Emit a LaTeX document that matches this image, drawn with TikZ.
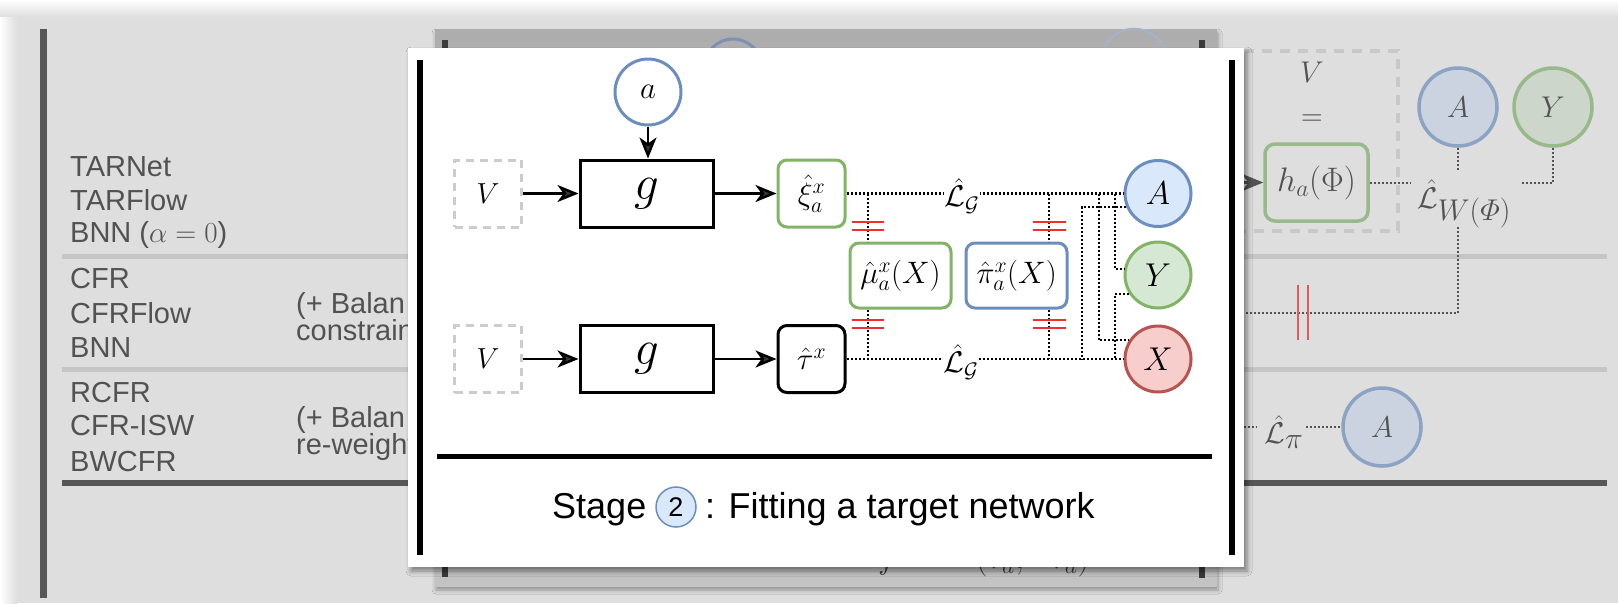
\RequirePackage{fix-cm}
\documentclass[tikz,border=0pt]{standalone}
\usepackage{amsmath}
\usepackage{fontspec}
\newfontfamily\arial{Liberation Sans}
\usetikzlibrary{arrows.meta,shadows.blur,calc}

% colours of the dimmed page
\definecolor{pagebg}{HTML}{DEDEDE}
\definecolor{dimtext}{HTML}{525252}
\definecolor{dimrule}{HTML}{C5C5C5}
\definecolor{dimbar}{HTML}{575757}
\definecolor{dimblue}{HTML}{8CA3C4}
\definecolor{dimbluefill}{HTML}{CBD3E0}
\definecolor{dimgreen}{HTML}{98B98A}
\definecolor{dimgreenfill}{HTML}{CDD6CB}
\definecolor{dimred}{HTML}{E05A5A}
\definecolor{dimdash}{HTML}{C8C8C8}
\definecolor{ghosttop}{HTML}{ADADAD}
\definecolor{ghostbot}{HTML}{C3C3C3}
\definecolor{ghostbar}{HTML}{3A3A3A}
\definecolor{ghostblue}{HTML}{7D91B2}
\definecolor{ghostpale}{HTML}{A8B2C4}
% colours of the stage panel
\definecolor{bluedraw}{HTML}{6C8EBF}
\definecolor{bluefill}{HTML}{DAE8FC}
\definecolor{greendraw}{HTML}{82B366}
\definecolor{greenfill}{HTML}{D5E8D4}
\definecolor{reddraw}{HTML}{B85450}
\definecolor{redfill}{HTML}{F8CECC}
\definecolor{barred}{HTML}{EE3030}
\definecolor{vgrey}{HTML}{CCCCCC}

\begin{document}
\begin{tikzpicture}[x=1pt,y=-1pt,
  collbl/.style={anchor=base west, inner sep=0pt, text=dimtext, font=\arial\fontsize{29}{34}\selectfont},
  dimmath/.style={inner sep=1pt, text=dimtext, font=\fontsize{30}{36}\selectfont},
  dimcirc/.style={circle, line width=3.5pt, minimum size=78pt, inner sep=0pt, text=dimtext, font=\fontsize{30}{36}\selectfont},
  dimdot/.style={dimtext, line width=2pt, dash pattern=on 2pt off 2pt},
  pcirc/.style={circle, line width=3pt, minimum size=66pt, inner sep=0pt, font=\fontsize{33}{40}\selectfont},
  pbox/.style={line width=3pt, inner sep=0pt, rounded corners=9pt, font=\fontsize{31}{37}\selectfont},
  vbox/.style={draw=vgrey, line width=3pt, dash pattern=on 8pt off 6pt, minimum width=67pt, minimum height=67pt, inner sep=0pt, font=\fontsize{29}{35}\selectfont},
  gbox/.style={draw=black, line width=3pt, minimum width=133pt, minimum height=67pt, inner sep=0pt, font=\fontsize{49}{58}\selectfont},
  parr/.style={line width=2.5pt, -{Stealth[length=21pt,width=17pt,inset=6pt]}},
  pdot/.style={line width=2.2pt, dash pattern=on 2pt off 2pt},
  cutmark/.style={barred, line width=2pt},
  loss/.style={fill=white, inner sep=1pt, font=\fontsize{30}{36}\selectfont}
]
\useasboundingbox (0,0) rectangle (1618,603);

% ---------- dimmed page ----------
\fill[white] (0,0) rectangle (1618,603);
\fill[pagebg] (15,15) rectangle (1618,603);
\shade[top color=white, bottom color=pagebg] (0,0) rectangle (1618,17);
\shade[left color=white, right color=pagebg] (0,17) rectangle (17,603);

% table frame and rules
\draw[dimbar, line width=7pt] (43.5,29) -- (43.5,598);
\draw[dimrule, line width=5pt] (62,256) -- (1607,256);
\draw[dimrule, line width=5pt] (62,369) -- (1607,369);
\draw[dimbar, line width=6pt] (62,482.5) -- (1607,482.5);

% method names
\node[collbl] (m1) at (70,176) {TARNet};
\node[collbl] (m2) at (70,210) {TARFlow};
\node[collbl] (m3) at (70,242) {BNN ($\alpha = 0$)};
\node[collbl] (m4) at (70,288) {CFR};
\node[collbl] (m5) at (70,323) {CFRFlow};
\node[collbl] (m6) at (70,357) {BNN};
\node[collbl] (m7) at (70,402) {RCFR};
\node[collbl] (m8) at (70,435) {CFR-ISW};
\node[collbl] (m9) at (70,471) {BWCFR};
\node[collbl] (n1) at (296,313) {(+ Balan};
\node[collbl] (n2) at (296,340) {constrain};
\node[collbl] (n3) at (296,427) {(+ Balan};
\node[collbl] (n4) at (296,454) {re-weight};

% right part of the first row
\draw[dimdash, line width=3.5pt, dash pattern=on 10pt off 8pt] (1200,51) rectangle (1398,231);
\node[dimmath] (bgV) at (1312,72) {$V$};
\node[dimmath] (bgeq) at (1312,120) {$=$};
\node[draw=dimgreen, line width=3.5pt, rounded corners=10pt, minimum width=103pt, minimum height=77pt,
      inner sep=0pt, text=dimtext, font=\fontsize{34}{40}\selectfont] (bgh) at (1316.5,182.5) {$h_a(\Phi)$};
\coordinate (bgin) at (1150,182.5);
\draw[dimtext, line width=2.5pt, -{Stealth[length=21pt,width=17pt,inset=6pt]}] (bgin) -- (bgh.west);
\node[dimcirc, draw=dimblue, fill=dimbluefill] (bgA) at (1458,107) {$A$};
\node[dimcirc, draw=dimgreen, fill=dimgreenfill] (bgY) at (1553,107) {$Y$};
\node[dimmath, anchor=west] (bgLW) at (1416,204) {$\hat{\mathcal{L}}_{\textstyle W(\varPhi)}$};
\coordinate (bgLWr) at (1520,182.5);
\draw[dimdot] (bgh.east) -- (1410,182.5);
\draw[dimdot] (bgA.south) -- ++(0,22);
\draw[dimdot] (bgY.south) |- (bgLWr);
\coordinate (bgturn) at (1458,313);
\coordinate (bgleft) at (1200,313);
\draw[dimdot] (1458,227) -- (bgturn) -- (bgleft);
\draw[dimred, line width=2.5pt] (1298,285) -- (1298,340);
\draw[dimred, line width=2.5pt] (1308,285) -- (1308,340);

% right part of the third row
\node[dimmath] (bgLpi) at (1284,432) {$\hat{\mathcal{L}}_{\textstyle\pi}$};
\node[dimcirc, draw=dimblue, fill=dimbluefill] (bgA2) at (1382,427) {$A$};
\coordinate (bgpil) at (1200,427);
\draw[dimdot] (bgpil) -- (1257,427);
\draw[dimdot] (1306,427) -- (bgA2.west);

% ---------- earlier panel, behind ----------
\shade[top color=ghosttop, bottom color=ghostbot,
       blur shadow={shadow blur radius=4pt, shadow xshift=1pt, shadow yshift=-4pt, shadow opacity=35}]
      (435,29) rectangle (1217,586);
\draw[ghostbar, line width=6pt] (445,40) -- (445,577);
\draw[ghostbar, line width=6pt] (1201.5,40) -- (1201.5,578);
\draw[ghostblue, line width=3pt] (733,68) circle[radius=29];
\draw[ghostpale, line width=2.5pt] (1134,63) circle[radius=34];
\node[anchor=base west, inner sep=0pt, text=ghostbar, font=\fontsize{34}{40}\selectfont] (frag) at (878,568)
      {$f\qquad\;(\hat{\tau}_a,\ \ \tau_a)$};

% ---------- stage panel ----------
\fill[white, blur shadow={shadow blur radius=5pt, shadow xshift=3pt, shadow yshift=-4pt, shadow opacity=45}]
      (408,48) rectangle (1244,567);
\draw[line width=6pt] (420,60) -- (420,555);
\draw[line width=6pt] (1232,60) -- (1232,555);
\draw[line width=5pt] (437,456) -- (1212,456);

% caption
\node[anchor=base west, inner sep=0pt, font=\arial\fontsize{36}{42}\selectfont] (stg) at (552,518) {Stage};
\node[circle, draw=bluedraw, fill=bluefill, line width=1.5pt, minimum size=40pt, inner sep=0pt,
      font=\arial\fontsize{27}{32}\selectfont] (two) at (676,507) {2};
\node[anchor=base west, inner sep=0pt, font=\arial\fontsize{36}{42}\selectfont] (fit) at (705,518) {: Fitting a target network};

% upper branch
\node[pcirc, draw=bluedraw, fill=white, font=\fontsize{31}{37}\selectfont] (pa) at (648,92) {$a$};
\node[vbox] (V1) at (488,193.5) {$V$};
\node[gbox] (g1) at (646.5,193.5) {$g$};
\node[pbox, draw=greendraw, minimum width=67pt, minimum height=67pt] (xi) at (811.5,193.5) {$\hat{\xi}^x_a$};
\draw[parr] (pa.south) -- (pa.south |- g1.north);
\draw[parr] (V1.east) -- (g1.west);
\draw[parr] (g1.east) -- (xi.west);

% lower branch
\node[vbox] (V2) at (488,359) {$V$};
\node[gbox] (g2) at (646.5,359) {$g$};
\node[pbox, draw=black, minimum width=67pt, minimum height=67pt] (tau) at (811.5,359) {$\hat{\tau}^x$};
\draw[parr] (V2.east) -- (g2.west);
\draw[parr] (g2.east) -- (tau.west);

% nuisance estimates
\node[pbox, draw=greendraw, minimum width=101pt, minimum height=65pt] (mu) at (900.5,275.5) {$\hat{\mu}^x_a(X)$};
\node[pbox, draw=bluedraw, minimum width=101pt, minimum height=65pt] (pi) at (1016.5,275.5) {$\hat{\pi}^x_a(X)$};

% variables
\node[pcirc, draw=bluedraw, fill=bluefill] (A) at (1158,193.5) {$A$};
\node[pcirc, draw=greendraw, fill=greenfill] (Y) at (1158,275) {$Y$};
\node[pcirc, draw=reddraw, fill=redfill] (X) at (1158,359) {$X$};

% loss connections
\coordinate (jmu1) at (868,193.5);
\coordinate (jpi1) at (1049,193.5);
\coordinate (jmu2) at (868,359);
\coordinate (jpi2) at (1049,359);
\coordinate (bA) at (1082,359);
\coordinate (tX) at (1099,193.5);
\coordinate (tY) at (1115,193.5);
\coordinate (bY) at (1115,359);
\draw[pdot] (xi.east) -- (A.west);
\draw[pdot] (tau.east) -- (X.west);
\draw[pdot] (jmu1) -- (jmu1 |- mu.north);
\draw[pdot] (jpi1) -- (jpi1 |- pi.north);
\draw[pdot] (jmu1 |- mu.south) -- (jmu2);
\draw[pdot] (jpi1 |- pi.south) -- (jpi2);
\draw[pdot] (A.203) -| (bA);
\draw[pdot] (tX) |- (X.147);
\draw[pdot] (tY) |- (Y.170);
\draw[pdot] (Y.213) -| (bY);
\node[loss] (LG1) at (962,196) {$\hat{\mathcal{L}}_{\mathcal{G}}$};
\node[loss] (LG2) at (961,362) {$\hat{\mathcal{L}}_{\mathcal{G}}$};

% stop-gradient marks
\foreach \yy in {222,230,320,328} {
  \draw[cutmark] (852,\yy) -- (884,\yy);
  \draw[cutmark] (1033,\yy) -- (1066,\yy);
}
\end{tikzpicture}
\end{document}
